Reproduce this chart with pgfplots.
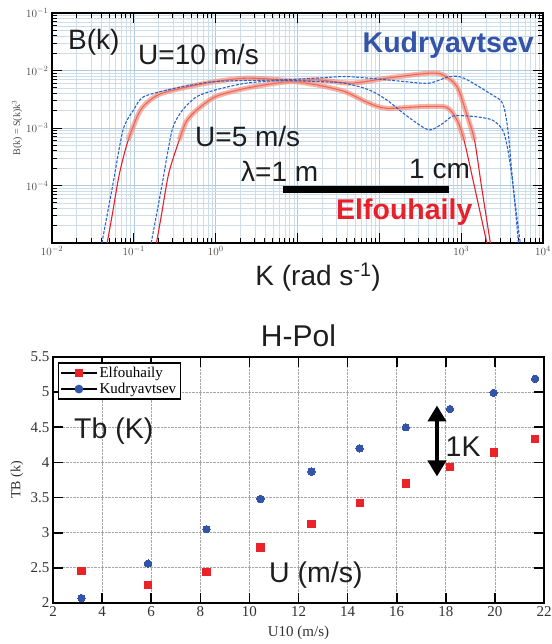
\documentclass[border=0pt]{standalone}
\usepackage{pgfplots}
\pgfplotsset{compat=1.18}
\usepackage{fontspec}
\setmainfont{Liberation Serif}
\newfontfamily\arial{Liberation Sans}
\usetikzlibrary{arrows.meta}
\definecolor{kblue}{RGB}{52,84,168}
\definecolor{ered}{RGB}{232,32,42}
\definecolor{salmon}{RGB}{242,140,118}
\definecolor{dblue}{RGB}{45,100,200}
\definecolor{gridc}{RGB}{205,222,234}
\definecolor{gridm}{RGB}{178,202,218}
\definecolor{txt}{RGB}{30,30,30}
\definecolor{mred}{RGB}{235,35,40}
\definecolor{mblue}{RGB}{50,85,170}

\begin{document}
\begin{tikzpicture}
\useasboundingbox (0pt,0pt) rectangle (551pt,644pt);
% ---------------- top panel ----------------
\begin{axis}[
  at={(52pt,401pt)}, anchor=south west, scale only axis,
  width=491pt, height=230pt,
  xmode=log, ymode=log,
  xmin=1e-2, xmax=1e4, ymin=1e-5, ymax=1e-1,
  axis line style={line width=1.6pt},
  tick align=inside,
  major tick length=10pt, minor tick length=5pt,
  every tick/.style={black, line width=0.9pt},
  grid=both,
  major grid style={gridm, line width=0.5pt},
  minor grid style={gridc, line width=0.4pt},
  xtick={1e-2,1e-1,1,10,100,1000,10000},
  xticklabels={$10^{-2}$,$10^{-1}$,$10^{0}$,,,$10^{3}$,$10^{4}$},
  ytick={1e-5,1e-4,1e-3,1e-2,1e-1},
  yticklabels={,$10^{-4}$,$10^{-3}$,$10^{-2}$,$10^{-1}$},
  tick label style={font=\fontsize{11}{12}\selectfont, text=black!70},
  xlabel={\arial\fontsize{28}{30}\selectfont K (rad s\textsuperscript{-1})},
  xlabel style={at={(axis description cs:0.542,-0.185)}, anchor=base, text=txt},
  ylabel={\fontsize{10}{11}\selectfont B(k) = S(k)k\textsuperscript{3}},
  ylabel style={at={(axis description cs:-0.071,0.5)}, anchor=center, text=black!70},
  clip=true,
]
% Elfouhaily U=10 (thin)
\addplot[ered, line width=1.1pt, no marks, smooth, tension=0.45] coordinates {
(0.0472,1e-5) (0.0548,3.25e-5) (0.0668,1.62e-4) (0.0855,6.18e-4) (0.121,2.06e-3)
(0.198,3.77e-3) (0.438,5.12e-3) (1.0,6.43e-3) (2.35,7.35e-3) (6.32,6.87e-3)
(17.0,5.62e-3) (37.5,4.31e-3) (75,2.69e-3) (123,2.20e-3) (330,2.35e-3)
(660,2.29e-3) (888,1.38e-3) (1082,6.18e-4) (1455,9.5e-5) (2059,1e-5)};
% Elfouhaily U=5 (thin)
\addplot[ered, line width=1.1pt, no marks, smooth, tension=0.45] coordinates {
(0.189,1e-5) (0.219,3.25e-5) (0.267,1.62e-4) (0.359,6.18e-4) (0.438,1.3e-3)
(0.589,2.06e-3) (1.0,3.52e-3) (2.35,4.92e-3) (6.32,6.18e-3) (17.0,6.87e-3)
(45.7,6.01e-3) (123,7.35e-3) (403,8.97e-3) (598,8.39e-3) (888,5.26e-3)
(1194,1.58e-3) (1455,6.18e-4) (1775,9.5e-5) (2274,1e-5)};
% Elfouhaily thick translucent bands
\addplot[salmon, line width=5pt, opacity=0.65, no marks, smooth, tension=0.45] coordinates {
(0.0855,6.18e-4) (0.121,2.06e-3) (0.198,3.77e-3) (0.438,5.12e-3) (1.0,6.43e-3)
(2.35,7.35e-3) (6.32,6.87e-3) (17.0,5.62e-3) (37.5,4.31e-3) (75,2.69e-3)
(123,2.20e-3) (330,2.35e-3) (660,2.29e-3) (888,1.38e-3) (1082,6.18e-4)};
\addplot[salmon, line width=5pt, opacity=0.65, no marks, smooth, tension=0.45] coordinates {
(0.359,6.18e-4) (0.438,1.3e-3) (0.589,2.06e-3) (1.0,3.52e-3) (2.35,4.92e-3)
(6.32,6.18e-3) (17.0,6.87e-3) (45.7,6.01e-3) (123,7.35e-3) (403,8.97e-3)
(598,8.39e-3) (888,5.26e-3) (1194,1.58e-3) (1455,6.18e-4)};
% Kudryavtsev U=10
\addplot[dblue, line width=1.1pt, dash pattern=on 3pt off 1.5pt, no marks, smooth, tension=0.45] coordinates {
(0.0407,1e-5) (0.0548,9.5e-5) (0.0738,9.23e-4) (0.0993,2.06e-3) (0.133,3.52e-3)
(0.325,4.92e-3) (1.0,6.43e-3) (6.32,6.87e-3) (17.0,7.35e-3) (37.5,7.85e-3)
(75,7.35e-3) (201,6.43e-3) (403,6.01e-3) (729,7.85e-3) (1082,7.35e-3)
(2389,3.77e-3) (3214,2.69e-3) (3727,9.23e-4) (4324,9.5e-5) (5271,1e-5)};
% Kudryavtsev U=5
\addplot[dblue, line width=1.1pt, dash pattern=on 3pt off 1.5pt, no marks, smooth, tension=0.45] coordinates {
(0.163,1e-5) (0.219,9.5e-5) (0.294,9.23e-4) (0.396,2.06e-3) (0.589,3.52e-3)
(1.0,4.60e-3) (2.35,6.01e-3) (6.32,6.70e-3) (17.0,6.43e-3) (37.5,6.01e-3)
(75,4.60e-3) (123,3.08e-3) (222,1.58e-3) (403,9.23e-4) (598,1.205e-3)
(805,1.62e-3) (1455,1.58e-3) (2389,1.38e-3) (3214,9.23e-4) (3727,4.13e-4)
(4324,9.5e-5) (5013,1e-5)};
% scale bar 1 m .. 1 cm
\addplot[black, line width=7pt, no marks] coordinates {(6.6,8.4e-5) (710,8.4e-5)};
\end{axis}
% top annotations
\node[anchor=base west, inner sep=0pt, text=txt] at (68pt,594pt) {\arial\fontsize{28}{30}\selectfont B(k)};
\node[anchor=base west, inner sep=0pt, text=txt] at (138pt,579pt) {\arial\fontsize{28}{30}\selectfont U=10 m/s};
\node[anchor=base west, inner sep=0pt, text=kblue] at (362.5pt,591.7pt) {\arial\bfseries\fontsize{28.5}{30}\selectfont Kudryavtsev};
\node[anchor=base west, inner sep=0pt, text=txt] at (195pt,497.3pt) {\arial\fontsize{28}{30}\selectfont U=5 m/s};
\node[anchor=base west, inner sep=0pt, text=txt] at (241pt,462pt) {\arial\fontsize{28}{30}\selectfont λ=1 m};
\node[anchor=base west, inner sep=0pt, text=txt] at (409pt,465.5pt) {\arial\fontsize{28}{30}\selectfont 1 cm};
\node[anchor=base west, inner sep=0pt, text=ered] at (336pt,424pt) {\arial\bfseries\fontsize{28.5}{30}\selectfont Elfouhaily};

% ---------------- bottom panel ----------------
\begin{axis}[
  at={(53pt,41pt)}, anchor=south west, scale only axis,
  width=491pt, height=246pt,
  xmin=2, xmax=22, ymin=2, ymax=5.5,
  xtick={2,4,...,22},
  ytick={2,2.5,3,3.5,4,4.5,5,5.5},
  yticklabels={2,2.5,3,3.5,4,4.5,5,5.5},
  axis line style={line width=1.6pt},
  tick align=inside,
  major tick length=10pt,
  every tick/.style={black, line width=1.6pt},
  grid=major,
  major grid style={densely dotted, black!35, line width=0.8pt},
  /pgf/number format/assume math mode=true,
  tick label style={font=\fontsize{15}{16}\selectfont, text=black!80},
  xlabel={\fontsize{15}{16}\selectfont U10 (m/s)},
  xlabel style={at={(axis description cs:0.5,-0.138)}, anchor=base, text=black!80},
  ylabel={\fontsize{14}{15}\selectfont TB (k)},
  ylabel style={at={(axis description cs:-0.0733,0.5)}, anchor=center, text=black!80},
  title={\arial\fontsize{30}{32}\selectfont H-Pol},
  title style={at={(axis description cs:0.5,1.018)}, anchor=base, text=txt},
  legend style={at={(axis description cs:0.0094,0.978)}, anchor=north west,
    draw=black, line width=1.3pt, fill=white,
    font=\fontsize{15}{16}\selectfont, inner xsep=2pt, inner ysep=2pt,
    row sep=0pt, cells={anchor=west}},
]
\addlegendimage{legend image code/.code={\path (0pt,0pt) -- (36pt,0pt); \fill[mred] (18pt,0pt) ++(-3.6pt,-3.6pt) rectangle ++(7.2pt,7.2pt);}}
\addlegendentry{Elfouhaily}
\addlegendimage{legend image code/.code={\path (0pt,0pt) -- (36pt,0pt); \fill[mblue] (18pt,0pt) circle[radius=3.7pt];}}
\addlegendentry{Kudryavtsev}
\addplot[only marks, mark=square*, mark size=3.6pt, color=mred, mark options={line width=0pt}, forget plot] coordinates {
(3.16,2.46) (5.87,2.26) (8.25,2.44) (10.45,2.79) (12.53,3.12)
(14.49,3.42) (16.37,3.70) (18.17,3.93) (19.95,4.14) (21.64,4.33)};
\addplot[only marks, mark=*, mark size=3.7pt, color=mblue, mark options={line width=0pt}, forget plot] coordinates {
(3.16,2.07) (5.87,2.56) (8.25,3.05) (10.45,3.48) (12.53,3.87)
(14.49,4.20) (16.37,4.50) (18.17,4.76) (19.95,4.99) (21.64,5.19)};
% 1 K double arrow
\addplot[black, line width=4pt, forget plot,
  {Triangle[width=18pt,length=16pt]}-{Triangle[width=18pt,length=16pt]}] coordinates {(17.64,3.80) (17.64,4.81)};
\end{axis}
% bottom annotations
\node[anchor=base west, inner sep=0pt, text=txt] at (74pt,205pt) {\arial\fontsize{28.5}{30}\selectfont Tb (K)};
\node[anchor=base west, inner sep=0pt, text=txt] at (445.5pt,187.3pt) {\arial\fontsize{28.5}{30}\selectfont 1K};
\node[anchor=base west, inner sep=0pt, text=txt] at (269pt,61.4pt) {\arial\fontsize{28.5}{30}\selectfont U (m/s)};
\end{tikzpicture}
\end{document}
